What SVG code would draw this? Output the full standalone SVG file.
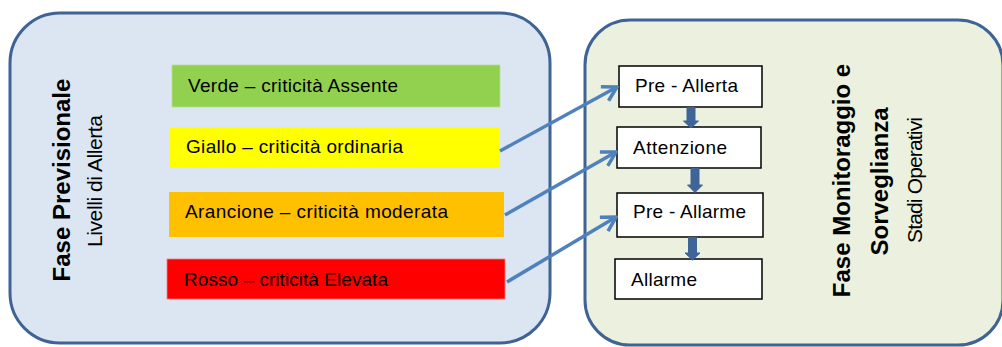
<svg xmlns="http://www.w3.org/2000/svg" width="1002" height="347" viewBox="0 0 1002 347">
<style>
.panel{stroke:#3F6394;stroke-width:3}
.lbl{font-family:"Liberation Sans",Arial,sans-serif;font-size:19px;fill:#000}
.stage{fill:#fff;stroke:#000;stroke-width:1.5}
.title{font-family:"Liberation Sans",Arial,sans-serif;font-size:24px;font-weight:bold;fill:#000}
.sub{font-family:"Liberation Sans",Arial,sans-serif;font-size:21px;fill:#000}
.conn{fill:none;stroke:#4F81BD;stroke-width:3.5}
.down{fill:#3F6497;stroke:#3F6497;stroke-width:1}
</style>
<defs>
<marker id="open" markerUnits="userSpaceOnUse" markerWidth="20" markerHeight="20" viewBox="0 0 20 20" refX="18" refY="10" orient="auto">
<path d="M4,2 L18,10 L4,18" fill="none" stroke="#4F81BD" stroke-width="3.5" stroke-linejoin="miter"/>
</marker>
</defs>
<rect width="1002" height="347" fill="#fff"/>
<g id="panel-previsionale">
<rect class="panel" x="10" y="13" width="540" height="330" rx="50" ry="50" fill="#DCE6F2"/>
<text class="title" transform="translate(70,180) rotate(-90)" text-anchor="middle">Fase Previsionale</text>
<text class="sub" transform="translate(102,181) rotate(-90)" text-anchor="middle" textLength="132">Livelli di Allerta</text>
</g>
<g id="panel-monitoraggio">
<rect class="panel" x="585" y="20" width="418" height="325" rx="45" ry="45" fill="#EBF1DE"/>
<text class="title" transform="translate(850,180.5) rotate(-90)" text-anchor="middle">Fase Monitoraggio e</text>
<text class="title" transform="translate(888,181.5) rotate(-90)" text-anchor="middle">Sorveglianza</text>
<text class="sub" transform="translate(922,180) rotate(-90)" text-anchor="middle" textLength="126">Stadi Operativi</text>
</g>
<g id="verde">
<rect x="172" y="65" width="328" height="42" fill="#92D050" stroke="#B6DE8E" stroke-width="0.8"/>
<text class="lbl" x="188" y="92" textLength="210">Verde – criticità Assente</text>
</g>
<g id="giallo">
<rect x="169" y="127" width="331" height="41" fill="#FFFF00"/>
<text class="lbl" x="186" y="153" textLength="217">Giallo – criticità ordinaria</text>
</g>
<g id="arancione">
<rect x="169" y="192" width="335" height="45" fill="#FFC000"/>
<text class="lbl" x="185" y="218" textLength="263">Arancione – criticità moderata</text>
</g>
<g id="rosso">
<rect x="167" y="259" width="338" height="40" fill="#FF0000" stroke="#F08080" stroke-width="0.8"/>
<text class="lbl" x="184" y="286" textLength="204">Rosso – criticità Elevata</text>
</g>
<g id="pre-allerta">
<rect class="stage" x="619" y="66" width="143" height="41"/>
<text class="lbl" x="635" y="92" textLength="103">Pre - Allerta</text>
</g>
<g id="attenzione">
<rect class="stage" x="617" y="127" width="144" height="41"/>
<text class="lbl" x="633" y="154" textLength="94">Attenzione</text>
</g>
<g id="pre-allarme">
<rect class="stage" x="617" y="193" width="146" height="44"/>
<text class="lbl" x="633" y="218" textLength="113">Pre - Allarme</text>
</g>
<g id="allarme">
<rect class="stage" x="615" y="259" width="147" height="40"/>
<text class="lbl" x="631" y="286" textLength="66">Allarme</text>
</g>
<g id="connectors">
<line class="conn" x1="500" y1="151" x2="617" y2="87" marker-end="url(#open)"/>
<line class="conn" x1="505" y1="215" x2="616" y2="152" marker-end="url(#open)"/>
<line class="conn" x1="507" y1="282" x2="616" y2="217" marker-end="url(#open)"/>
<polygon class="down" points="687,107.5 695,107.5 695,121 698.5,121 691,128 683.5,121 687,121"/>
<polygon class="down" points="691,168.5 699,168.5 699,185 702.5,185 695,192.5 687.5,185 691,185"/>
<polygon class="down" points="688.5,237.5 696.5,237.5 696.5,253 700,253 692.5,260 685,253 688.5,253"/>
</g>
</svg>
